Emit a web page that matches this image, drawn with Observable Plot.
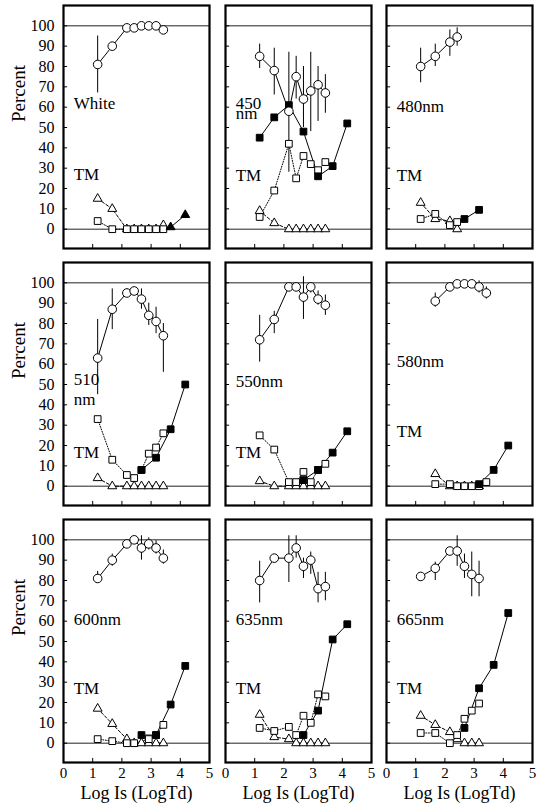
<!DOCTYPE html>
<html><head><meta charset="utf-8">
<script src="https://cdn.jsdelivr.net/npm/d3@7"></script>
<script src="https://cdn.jsdelivr.net/npm/@observablehq/plot@0.6"></script>
<style>
html,body{margin:0;padding:0;background:#fff;}
#chart{position:relative;width:536px;height:808px;overflow:hidden;background:#fff;}
#chart svg{position:absolute;overflow:visible;}
#chart svg, #chart svg text{font-family:"Liberation Serif", "DejaVu Serif", serif !important;}
</style></head><body><div id="chart"></div>
<script>
// Panels (row-major, 3x3)
const panels = ["White","450","480","510","550","580","600","635","665"];
const yTicks = [0,10,20,30,40,50,60,70,80,90,100];
const xTickLabels = [0,1,2,3,4,5];
const xInnerTicks = [1,2,3,4];
const refLines = [0,100];
const yAxisTitle = "Percent";
const xAxisTitle = "Log Is (LogTd)";

// Hit rate (open circles, solid line) with error bars: [panel, logIs, percent, low, high]
const circleRows = [
["White",1.17,81,67,95],["White",1.67,90,null,null],["White",2.17,99,null,null],["White",2.42,99,null,null],["White",2.67,100,null,null],["White",2.92,100,null,null],["White",3.17,100,null,null],["White",3.42,98,null,null],
["450",1.17,85,79,91],["450",1.67,78,66,89],["450",2.17,58,28,87],["450",2.42,75,64,85],["450",2.67,64,50,80],["450",2.92,68,48,87],["450",3.17,71,53,80],["450",3.42,67,57,76],
["480",1.17,80,72,89],["480",1.67,85,80,91],["480",2.17,92,85,98],["480",2.42,94.5,90,99],
["510",1.17,63,45,82],["510",1.67,87,77,97],["510",2.17,95,93,97],["510",2.42,96,null,null],["510",2.67,92,87,97],["510",2.92,84,79,90],["510",3.17,81,75,88],["510",3.42,74,56,80],
["550",1.17,72,61,84],["550",1.67,82,75,86],["550",2.17,98,null,null],["550",2.42,98,null,null],["550",2.67,93,82,103],["550",2.92,98,95,100],["550",3.17,92,89,96],["550",3.42,89,84,94],
["580",1.67,91,88,95],["580",2.17,98,null,null],["580",2.42,99.5,null,null],["580",2.67,99.5,null,null],["580",2.92,99.5,null,null],["580",3.17,98,95,101],["580",3.42,95,92,98],
["600",1.17,81,79,84.5],["600",1.67,90,87,93],["600",2.17,98,97,99.5],["600",2.42,100,null,null],["600",2.67,96,90,102],["600",2.92,98,95,101],["600",3.17,96,93,99.5],["600",3.42,91,88,95],
["635",1.17,80,69,89.5],["635",1.67,91,null,null],["635",2.17,91,79,102],["635",2.42,96,91,102],["635",2.67,87,81,91],["635",2.92,90,83,94],["635",3.17,76,69,84],["635",3.42,77,70,84],
["665",1.17,82,null,null],["665",1.67,86,80,89],["665",2.17,94.5,93,96],["665",2.42,94.5,87,102],["665",2.67,87,81,93],["665",2.92,83,72,94],["665",3.17,81,72,89.5]
];

// Open squares (dotted line): [panel, logIs, percent]
const openSquareRows = [
["White",1.17,4],["White",1.67,0],["White",2.17,0],["White",2.42,0],["White",2.67,0],["White",2.92,0],["White",3.17,0],["White",3.42,0],
["450",1.17,6],["450",1.67,19],["450",2.17,42],["450",2.42,25],["450",2.67,36],["450",2.92,32],["450",3.17,29],["450",3.42,33],
["480",1.17,5],["480",1.67,7.5],["480",2.17,2],["480",2.42,3.5],
["510",1.17,33],["510",1.67,13],["510",2.17,5.5],["510",2.42,4],["510",2.67,8],["510",2.92,16],["510",3.17,19],["510",3.42,26],
["550",1.17,25],["550",1.67,18],["550",2.17,2],["550",2.42,2],["550",2.67,7],["550",2.92,2],["550",3.17,8],["550",3.42,11],
["580",1.67,1],["580",2.17,1],["580",2.42,0],["580",2.67,0],["580",2.92,0],["580",3.17,0],["580",3.42,2],
["600",1.17,2],["600",1.67,1],["600",2.17,0],["600",2.42,0],["600",2.92,2],["600",3.17,4],["600",3.42,9],
["635",1.17,7.5],["635",1.67,6],["635",2.17,8],["635",2.42,4],["635",2.67,13.5],["635",2.92,10],["635",3.17,24],["635",3.42,23],
["665",1.17,5],["665",1.67,5],["665",2.17,0],["665",2.42,4],["665",2.67,12],["665",2.92,16],["665",3.17,19.5]
];

// Open triangles (dashed line): [panel, logIs, percent]
const openTriangleRows = [
["White",1.17,15],["White",1.67,10],["White",2.17,0],["White",2.42,0],["White",2.67,0],["White",2.92,0],["White",3.17,0],["White",3.42,2],
["450",1.17,9],["450",1.67,3],["450",2.17,0],["450",2.42,0],["450",2.67,0],["450",2.92,0],["450",3.17,0],["450",3.42,0],
["480",1.17,13],["480",1.67,5],["480",2.17,4],["480",2.42,0],
["510",1.17,4],["510",1.67,0],["510",2.17,0],["510",2.42,0],["510",2.67,0],["510",2.92,0],["510",3.17,0],["510",3.42,0],
["550",1.17,2.5],["550",1.67,0],["550",2.17,0],["550",2.42,0],["550",2.67,0],["550",2.92,0],["550",3.17,0],["550",3.42,0],
["580",1.67,6],["580",2.17,0],["580",2.42,0],["580",2.67,0],["580",2.92,0],["580",3.17,0],
["600",1.17,17],["600",1.67,9.5],["600",2.17,2],["600",2.42,0],["600",2.67,0],["600",2.92,0],["600",3.17,0],["600",3.42,0],
["635",1.17,14],["635",1.67,3],["635",2.17,2],["635",2.42,0],["635",2.67,0],["635",2.92,0],["635",3.17,0],["635",3.42,0],
["665",1.17,13.5],["665",1.67,9],["665",2.17,5.5],["665",2.42,2],["665",2.67,0],["665",2.92,0],["665",3.17,0]
];

// Filled squares (solid line): [panel, logIs, percent]
const filledSquareRows = [
["450",1.17,45],["450",1.67,55],["450",2.17,61],["450",2.67,48],["450",3.17,26],["450",3.67,31],["450",4.17,52],
["480",2.67,5],["480",3.17,9.5],
["510",2.67,8],["510",3.17,14],["510",3.67,28],["510",4.17,50],
["550",2.67,3],["550",3.17,8],["550",3.67,16.5],["550",4.17,27],
["580",3.17,1],["580",3.67,8],["580",4.17,20],
["600",2.67,4],["600",3.17,4],["600",3.67,19],["600",4.17,38],
["635",2.67,4],["635",3.17,16],["635",3.67,51],["635",4.17,58.5],
["665",2.67,7.5],["665",3.17,27],["665",3.67,38.5],["665",4.17,64]
];

// Filled triangles (solid line): [panel, logIs, percent]
const filledTriangleRows = [
["White",3.67,1],["White",4.17,7]
];

// Panel labels: [panel, text, baseline percent]
const labelRows = [
["White","White",59],["White","TM",24],
["450","450",59],["450","nm",54],["450","TM",23.5],
["480","480nm",57.5],["480","TM",23.5],
["510","510",50],["510","nm",40],["510","TM",14],
["550","550nm",49],["550","TM",14],
["580","580nm",58.5],["580","TM",24],
["600","600nm",58],["600","TM",24],
["635","635nm",58],["635","TM",24],
["665","665nm",58],["665","TM",24]
];

const toPts = rows => rows.map(([p,x,y,lo,hi]) => ({p,x,y,lo,hi}));
const circles = toPts(circleRows);
const openSq = toPts(openSquareRows);
const openTri = toPts(openTriangleRows);
const filledSq = toPts(filledSquareRows);
const filledTri = toPts(filledTriangleRows);
const labels = labelRows.map(([p,t,y]) => ({p,t,y}));

const colX = [63, 225, 386];
const rowY = [5, 262, 519];
const panelW = 146, panelH = 243;
const serif = "Liberation Serif";
const chart = document.getElementById("chart");

panels.forEach((name, i) => {
  const row = Math.floor(i / 3), col = i % 3;
  const ml = col === 0 ? 63 : 3, mr = 3, mt = 3, mb = row === 2 ? 46 : 3;
  const f = d => d.p === name;
  const C = circles.filter(f), OS = openSq.filter(f), OT = openTri.filter(f),
        FS = filledSq.filter(f), FT = filledTri.filter(f), L = labels.filter(f);
  const marks = [
    Plot.ruleY(refLines, {y: d => d, stroke: "#222", strokeWidth: 1}),
    Plot.ruleY(yTicks, {y: d => d, x1: 0, x2: 0.14, stroke: "black", strokeWidth: 1}),
    Plot.ruleX(xInnerTicks, {x: d => d, y1: -9.5, y2: -7.5, stroke: "black", strokeWidth: 1}),
    Plot.line(OT, {x: "x", y: "y", stroke: "black", strokeWidth: 1, strokeDasharray: "3,2"}),
    Plot.line(OS, {x: "x", y: "y", stroke: "black", strokeWidth: 1, strokeDasharray: "1,1.6"}),
    Plot.line(FS, {x: "x", y: "y", stroke: "black", strokeWidth: 1}),
    Plot.line(FT, {x: "x", y: "y", stroke: "black", strokeWidth: 1}),
    Plot.line(C, {x: "x", y: "y", stroke: "black", strokeWidth: 1}),
    Plot.ruleX(C.filter(d => d.lo != null), {x: "x", y1: "lo", y2: "hi", stroke: "black", strokeWidth: 1}),
    Plot.dot(OT, {x: "x", y: "y", symbol: "triangle", r: 3.3, fill: "white", stroke: "black", strokeWidth: 1}),
    Plot.dot(OS, {x: "x", y: "y", symbol: "square", r: 3.8, fill: "white", stroke: "black", strokeWidth: 1}),
    Plot.dot(FS, {x: "x", y: "y", symbol: "square", r: 3.8, fill: "black", stroke: "black", strokeWidth: 1}),
    Plot.dot(FT, {x: "x", y: "y", symbol: "triangle", r: 3.3, fill: "black", stroke: "black", strokeWidth: 1}),
    Plot.dot(C, {x: "x", y: "y", symbol: "circle", r: 4.3, fill: "white", stroke: "black", strokeWidth: 1}),
    Plot.text(L, {x: 0.35, y: "y", text: "t", textAnchor: "start", lineAnchor: "bottom", fontSize: 17, fontFamily: serif, fill: "black"}),
    Plot.frame({stroke: "black", strokeWidth: 2.2})
  ];
  if (col === 0) {
    marks.push(Plot.axisY({ticks: yTicks, tickSize: 0, tickPadding: 9, label: null, fontSize: 16, fontFamily: serif, tickFormat: "d"}));
    marks.push(Plot.text([yAxisTitle], {text: d => d, frameAnchor: "left", dx: -45, dy: -5, rotate: -90, fontSize: 19, fontFamily: serif, fill: "black"}));
  }
  if (row === 2) {
    marks.push(Plot.axisX({ticks: xTickLabels, tickSize: 0, tickPadding: 5, label: null, fontSize: 15, fontFamily: serif, tickFormat: "d"}));
    marks.push(Plot.text([xAxisTitle], {text: d => d, frameAnchor: "bottom", dy: 36, fontSize: 18, fontFamily: serif, fill: "black"}));
  }
  const svg = Plot.plot({
    width: ml + panelW + mr,
    height: mt + panelH + mb,
    marginLeft: ml, marginRight: mr, marginTop: mt, marginBottom: mb,
    x: {domain: [0, 5], axis: row === 2 ? undefined : null},
    y: {domain: [-9.5, 110], axis: col === 0 ? undefined : null},
    style: {fontFamily: serif, fontSize: "16px", color: "black", background: "transparent", overflow: "visible"},
    marks
  });
  svg.style.left = (colX[col] - ml) + "px";
  svg.style.top = (rowY[row] - mt) + "px";
  chart.appendChild(svg);
});
</script>
</body></html>
